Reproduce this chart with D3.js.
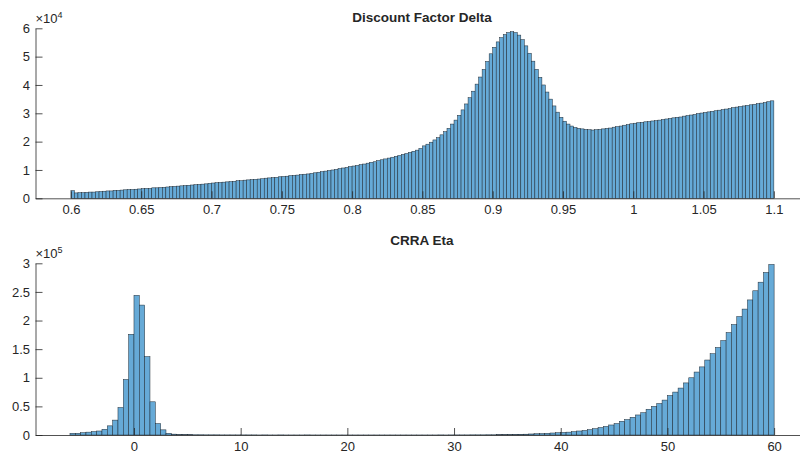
<!DOCTYPE html>
<html>
<head>
<meta charset="utf-8">
<script src="https://cdn.jsdelivr.net/npm/d3@7"></script>
<style>
  body { margin: 0; background: #fff; }
  svg text { font-family: "Liberation Sans", Arial, Helvetica, sans-serif; fill: #262626; }
</style>
</head>
<body>
<div id="chart"></div>
<script>
// Discount factor delta histogram: 200 bins of width 0.0025 starting at 0.6 (counts in 1e4)
var deltaStart = 0.6, deltaWidth = 0.0025;
var deltaCounts = [
  0.27, 0.19, 0.20, 0.20, 0.21, 0.22, 0.22, 0.23, 0.24, 0.25,
  0.26, 0.26, 0.28, 0.28, 0.29, 0.30, 0.31, 0.31, 0.32, 0.33,
  0.34, 0.35, 0.35, 0.37, 0.37, 0.38, 0.39, 0.40, 0.41, 0.42,
  0.43, 0.44, 0.45, 0.46, 0.47, 0.48, 0.49, 0.50, 0.51, 0.53,
  0.54, 0.55, 0.56, 0.57, 0.58, 0.59, 0.60, 0.62, 0.62, 0.64,
  0.65, 0.66, 0.67, 0.68, 0.69, 0.71, 0.72, 0.73, 0.74, 0.76,
  0.77, 0.78, 0.80, 0.81, 0.82, 0.84, 0.85, 0.86, 0.88, 0.90,
  0.92, 0.94, 0.96, 0.98, 1.00, 1.02, 1.05, 1.07, 1.09, 1.12,
  1.14, 1.16, 1.19, 1.21, 1.24, 1.27, 1.29, 1.33, 1.36, 1.39,
  1.42, 1.45, 1.48, 1.51, 1.55, 1.58, 1.62, 1.66, 1.70, 1.76,
  1.85, 1.91, 1.98, 2.06, 2.14, 2.24, 2.35, 2.47, 2.62, 2.76,
  2.93, 3.12, 3.33, 3.55, 3.78, 4.03, 4.28, 4.55, 4.83, 5.10,
  5.33, 5.52, 5.67, 5.78, 5.85, 5.88, 5.85, 5.76, 5.60, 5.38,
  5.12, 4.84, 4.55, 4.27, 4.00, 3.75, 3.50, 3.26, 3.04, 2.86,
  2.72, 2.62, 2.55, 2.50, 2.47, 2.45, 2.43, 2.42, 2.41, 2.42,
  2.43, 2.45, 2.47, 2.48, 2.51, 2.53, 2.55, 2.58, 2.60, 2.63,
  2.65, 2.67, 2.68, 2.70, 2.71, 2.73, 2.74, 2.76, 2.78, 2.80,
  2.82, 2.84, 2.86, 2.87, 2.90, 2.92, 2.94, 2.96, 2.99, 3.01,
  3.03, 3.05, 3.07, 3.09, 3.11, 3.13, 3.15, 3.17, 3.20, 3.22,
  3.24, 3.26, 3.28, 3.30, 3.32, 3.34, 3.36, 3.38, 3.41, 3.44
];
var deltaXTicks = [0.6, 0.65, 0.7, 0.75, 0.8, 0.85, 0.9, 0.95, 1, 1.05, 1.1];
var deltaYTicks = [0, 1, 2, 3, 4, 5, 6];

// CRRA eta histogram: 132 bins of width 0.5 starting at -6 (counts in 1e5)
var etaStart = -6, etaWidth = 0.5;
var etaCounts = [
  0.03, 0.03, 0.04, 0.05, 0.06, 0.07, 0.10, 0.16, 0.26, 0.48,
  0.97, 1.76, 2.44, 2.27, 1.37, 0.58, 0.20, 0.09, 0.03, 0.015,
  0.008, 0.006, 0.005, 0.004, 0.004, 0.003, 0.003, 0.003, 0.002, 0.002, 0.002, 0.002,
  0.002, 0.002, 0.002, 0.001, 0.002, 0.001, 0.001, 0.002, 0.001, 0.001,
  0.001, 0.001, 0.002, 0.001, 0.001, 0.001, 0.001, 0.001, 0.001, 0.001,
  0.001, 0.001, 0.001, 0.001, 0.001, 0.001, 0.001, 0.001, 0.001, 0.001,
  0.001, 0.001, 0.001, 0.001, 0.001, 0.001, 0.001, 0.002, 0.001, 0.002,
  0.002, 0.002, 0.002, 0.003, 0.003, 0.003, 0.004, 0.004, 0.005, 0.006,
  0.007, 0.009, 0.012, 0.014, 0.018, 0.022, 0.025, 0.03, 0.035, 0.04,
  0.045, 0.05, 0.058, 0.07, 0.08, 0.093, 0.11, 0.13, 0.15, 0.175,
  0.20, 0.24, 0.27, 0.31, 0.35, 0.39, 0.45, 0.50, 0.55, 0.61,
  0.69, 0.75, 0.82, 0.91, 1.00, 1.10, 1.19, 1.31, 1.42, 1.53,
  1.65, 1.79, 1.93, 2.07, 2.20, 2.36, 2.52, 2.67, 2.84, 2.98
];
var etaXTicks = [0, 10, 20, 30, 40, 50, 60];
var etaYTicks = [0, 0.5, 1, 1.5, 2, 2.5, 3];

var width = 800, height = 457;
var svg = d3.select("#chart").append("svg")
  .attr("width", width)
  .attr("height", height);

function drawPanel (opts) {
  let bins = opts.counts.map(function (c, i) {
    return {x0: opts.start + i * opts.width, x1: opts.start + (i + 1) * opts.width, v: c};
  });

  let x = d3.scaleLinear().domain(opts.xDomain).range([35.5, 809]);
  let y = d3.scaleLinear().domain(opts.yDomain).range([opts.bottom, opts.top]);

  let g = svg.append("g");

  //bars
  g.selectAll(".bar")
    .data(bins)
    .enter().append("rect")
    .attr("class", "bar")
    .attr("x", d => x(d.x0))
    .attr("width", d => x(d.x1) - x(d.x0))
    .attr("y", d => y(d.v))
    .attr("height", d => y(0) - y(d.v))
    .attr("fill", "#66aad7")
    .attr("stroke", "#1c2833")
    .attr("stroke-width", 0.5);

  //x axis, ticks pointing inward
  let xAxis = g.append("g")
    .attr("transform", "translate(0," + opts.bottom + ")")
    .call(d3.axisBottom(x)
      .tickValues(opts.xTicks)
      .tickFormat(d => String(+d.toFixed(2)))
      .tickSizeInner(-7)
      .tickSizeOuter(0)
      .tickPadding(6.5));

  //y axis
  let yAxis = g.append("g")
    .attr("transform", "translate(35.5,0)")
    .call(d3.axisLeft(y)
      .tickValues(opts.yTicks)
      .tickFormat(d => String(d))
      .tickSizeInner(-7)
      .tickSizeOuter(0)
      .tickPadding(5.5));

  [xAxis, yAxis].forEach(function (a) {
    a.selectAll("path, line").attr("stroke", "#262626").attr("stroke-width", 0.8);
    a.selectAll("text").attr("font-size", 13).attr("fill", "#262626")
      .style("font-family", '"Liberation Sans", Arial, sans-serif');
  });

  //exponent label
  let ex = g.append("text")
    .attr("x", 35.5)
    .attr("y", opts.top - 5)
    .attr("font-size", 13);
  ex.append("tspan").text("\u00d710");
  ex.append("tspan").attr("font-size", 9).attr("dy", -5).text(opts.exponent);

  //title
  g.append("text")
    .attr("x", 422)
    .attr("y", opts.titleY)
    .attr("text-anchor", "middle")
    .attr("font-size", 13.5)
    .attr("font-weight", "bold")
    .attr("fill", "#000")
    .text(opts.title);
}

drawPanel({
  counts: deltaCounts, start: deltaStart, width: deltaWidth,
  xDomain: [0.5748, 1.125], yDomain: [0, 6],
  top: 28.3, bottom: 198.3,
  xTicks: deltaXTicks, yTicks: deltaYTicks,
  exponent: "4", title: "Discount Factor Delta", titleY: 22
});

drawPanel({
  counts: etaCounts, start: etaStart, width: etaWidth,
  xDomain: [-9.23, 63.27], yDomain: [0, 3],
  top: 263.3, bottom: 435,
  xTicks: etaXTicks, yTicks: etaYTicks,
  exponent: "5", title: "CRRA Eta", titleY: 245
});
</script>
</body>
</html>
